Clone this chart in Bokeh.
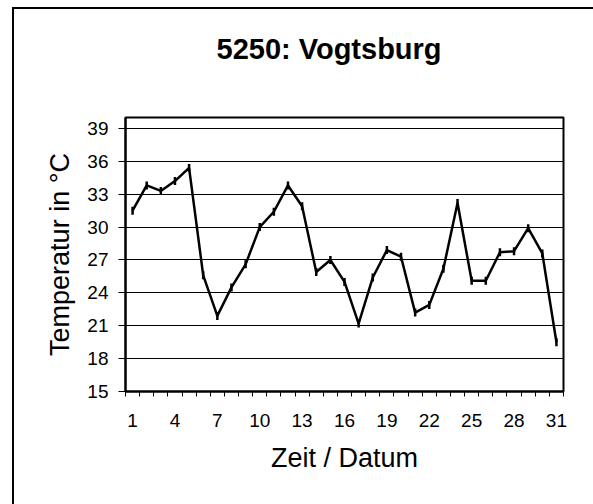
import numpy as np
from bokeh.plotting import figure
from bokeh.models import FixedTicker, Range1d, Title
from bokeh.embed import file_html
from bokeh.resources import INLINE

days = list(range(1, 32))
temps = [31.5, 33.8, 33.3, 34.2, 35.4, 25.6, 21.9, 24.5, 26.6, 30.0,
         31.4, 33.8, 31.9, 25.9, 27.0, 25.0, 21.2, 25.4, 27.9, 27.3,
         22.2, 22.9, 26.2, 32.2, 25.1, 25.1, 27.7, 27.8, 29.9, 27.6, 19.5]
x_labels = [1, 4, 7, 10, 13, 16, 19, 22, 25, 28, 31]
y_ticks = [15, 18, 21, 24, 27, 30, 33, 36, 39]
title_text = "5250: Vogtsburg"
x_title = "Zeit / Datum"
y_title = "Temperatur in °C"

FONT = "Liberation Sans"

p = figure(width=593, height=504, output_backend="svg", toolbar_location=None,
           x_range=Range1d(0.5, 31.5), y_range=Range1d(15, 40),
           min_border_left=125, min_border_right=30, min_border_top=117, min_border_bottom=113)
p.styles = {"box-shadow": "inset 12px 7px 0 0 white, inset 14px 9px 0 0 black"}

# real title (outer), spacer title next to the frame
p.title.text = title_text
p.title.text_font = FONT
p.title.text_font_size = "29px"
p.title.text_font_style = "bold"
p.title.text_color = "black"
p.title.align = "left"
p.title.offset = 91
p.title.standoff = 0

spacer = Title(text=" ", text_font_size="10px", standoff=40)
p.add_layout(spacer, "above")

p.outline_line_color = "black"
p.outline_line_width = 2
p.background_fill_color = "white"
p.border_fill_color = None

# x axis
xa = p.xaxis[0]
xa.ticker = FixedTicker(ticks=x_labels, minor_ticks=[d - 0.5 for d in days] + [31.5])
xa.major_tick_out = 0
xa.major_tick_in = 0
xa.minor_tick_out = 5
xa.minor_tick_in = 0
xa.minor_tick_line_color = "black"
xa.minor_tick_line_width = 1
xa.axis_line_color = "black"
xa.axis_line_width = 2
xa.major_label_text_font = FONT
xa.major_label_text_font_size = "19px"
xa.major_label_text_color = "black"
xa.major_label_standoff = 17
xa.axis_label = x_title
xa.axis_label_text_font = FONT
xa.axis_label_text_font_size = "27px"
xa.axis_label_text_font_style = "normal"
xa.axis_label_text_color = "black"
xa.axis_label_standoff = 13

# y axis
ya = p.yaxis[0]
ya.ticker = FixedTicker(ticks=y_ticks)
ya.major_tick_out = 7
ya.major_tick_in = 0
ya.major_tick_line_color = "black"
ya.minor_tick_out = 0
ya.minor_tick_in = 0
ya.axis_line_color = "black"
ya.axis_line_width = 2
ya.major_label_text_font = FONT
ya.major_label_text_font_size = "19px"
ya.major_label_text_color = "black"
ya.major_label_standoff = 10
ya.axis_label = y_title
ya.axis_label_text_font = FONT
ya.axis_label_text_font_size = "27px"
ya.axis_label_text_font_style = "normal"
ya.axis_label_text_color = "black"
ya.axis_label_standoff = 9

p.xgrid.grid_line_color = None
p.ygrid.ticker = FixedTicker(ticks=y_ticks[1:])
p.ygrid.grid_line_color = "black"
p.ygrid.grid_line_width = 1

p.line(days, temps, line_color="black", line_width=2.5)
p.scatter(days, temps, marker="dash", angle=np.pi / 2, size=8,
          line_color="black", line_width=2.5)

open("out.html", "w").write(file_html(p, INLINE))
